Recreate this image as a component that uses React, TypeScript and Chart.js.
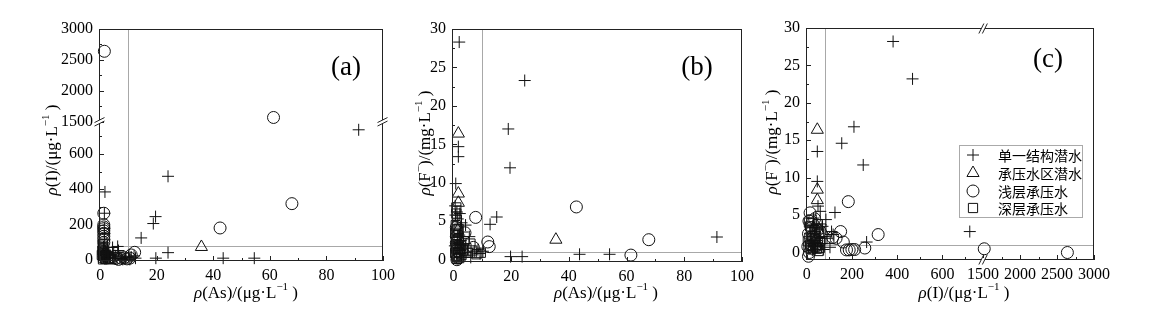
import React, { useEffect, useRef } from 'react';
import { Chart, registerables, LinearScale } from 'chart.js';

Chart.register(...registerables);

type P = [number, number];

// ---------------- data ----------------
const seriesNames = ['单一结构潜水', '承压水区潜水', '浅层承压水', '深层承压水'];

// panel (a): x = ρ(As) µg/L, y = ρ(I) µg/L
const aPlus: P[] = [
  [91.4, 735], [24, 473], [19.6, 246], [18.8, 207], [14.5, 126], [24, 43], [19.7, 12], [43.5, 12], [54.5, 12],
  [1.7, 385], [1.5, 265], [1.5, 180], [1.5, 150], [1.5, 115], [1.2, 75], [1.2, 45], [1.2, 20],
  [4.4, 72], [6.2, 78], [6.5, 55], [4.8, 45], [3.5, 28], [2.5, 15], [4.5, 12], [6, 10], [7.5, 12],
  [9, 15], [10, 20], [11, 18], [12.5, 12], [8.5, 8], [3, 35], [2, 50], [5.5, 25], [7, 20], [8, 5],
  [10.5, 5], [12, 25],
];
const aTri: P[] = [[35.8, 75], [1.7, 40], [1.7, 45], [1.5, 30], [1.5, 20]];
const aCircle: P[] = [
  [1.5, 2640], [61.3, 1570], [67.8, 319], [42.4, 182], [12.2, 45], [1.3, 265], [1.3, 200], [1.3, 188],
  [1.3, 178], [1.3, 166], [1.3, 152], [1.3, 135], [1.3, 118], [1.3, 100], [5.5, 10], [7.5, 12], [9.5, 8],
  [11, 30], [3, 15], [6.5, 5], [8.5, 15], [10.5, 12],
];
const aSquare: P[] = [
  [1, 90], [1, 75], [1, 60], [1, 48], [1, 36], [1, 25], [1, 15], [1, 5], [2, 10], [3, 5], [2, 30], [4, 8],
  [0.8, 55], [1.5, 42], [2.2, 20], [1.8, 8], [0.6, 30], [2.8, 25], [3.5, 12], [1.2, 68],
];

// panel (b): x = ρ(As) µg/L, y = ρ(F-) mg/L
const bPlus: P[] = [
  [2.0, 28.3], [24.7, 23.3], [19, 17], [19.6, 11.95], [15, 5.55], [12.7, 4.6], [91.3, 2.95], [19.8, 0.4],
  [23.8, 0.4], [43.7, 0.7], [54.1, 0.7], [10.2, 1.1], [8.5, 1.3], [1.7, 14.7], [1.7, 13.4], [0.8, 9.9],
  [1.2, 6.2], [1.5, 5.3], [2.8, 4.8], [4.2, 4.5], [5.5, 3.0], [3.2, 3.6], [1.5, 3.0], [1.3, 2.2], [1.5, 1.5],
  [2.2, 0.8], [4, 0.5], [6, 0.3], [7.2, 1.1], [9.2, 0.8], [1, 0.3], [2.5, 2.5], [3, 1.3],
  [0.6, 7.0], [0.7, 5.8], [2.2, 6.0], [2, 3.2], [0.5, 1.8], [3.5, 2.0],
];
const bTri: P[] = [[35.5, 2.6], [1.7, 16.4], [1.7, 8.6], [1.7, 7.4], [1.5, 3.8]];
const bCircle: P[] = [
  [42.6, 6.86], [67.7, 2.6], [61.5, 0.6], [7.7, 5.5], [11.9, 2.3], [12.4, 1.7], [4, 3.5], [6.9, 1.6],
  [1, 4.2], [1, 3.0], [1, 2.2], [1.2, 1.2], [1.5, 0.2], [2, 0.9], [1.5, 2.6], [1.2, 0.0],
];
const bSquare: P[] = [
  [1, 6.8], [1, 6.0], [1.2, 5.2], [0.8, 4.5], [1, 3.8], [1.3, 3.2], [1, 2.6], [1.4, 2.0], [1, 1.5],
  [1.6, 1.0], [1, 0.5], [2, 0.2], [2.5, 1.8], [3.5, 1.2], [5.9, 2.1], [4.5, 1.5], [9.5, 0.9],
  [0.6, 3.5], [1.8, 4.0], [0.7, 1.8], [1.8, 2.8], [2.2, 1.4], [0.6, 0.9], [1.2, 0.1], [2.8, 0.6],
  [3.8, 2.4], [5, 0.9], [6.5, 1.2], [8, 0.7],
];

// panel (c): x = ρ(I) µg/L, y = ρ(F-) mg/L
const cPlus: P[] = [
  [382, 28.2], [468, 23.2], [209, 16.8], [155, 14.6], [47, 13.5], [250, 11.7], [47, 9.5], [125, 5.35],
  [85, 4.4], [721, 2.8], [265, 1.4], [117, 2.4], [103, 0.7], [60, 5.5], [30, 4.6], [70, 3.5], [40, 3.0],
  [55, 2.0], [20, 1.2], [35, 0.8], [110, 2.8], [90, 1.9], [25, 0.3], [50, 6.2], [45, 3.8],
  [15, 2.5], [28, 3.6], [62, 1.2], [45, 1.3], [75, 0.4],
];
const cTri: P[] = [[47, 16.4], [47, 8.4], [47, 7.0], [40, 3.8], [75, 2.6]];
const cCircle: P[] = [
  [2640, 0.0], [1515, 0.5], [316, 2.4], [184, 6.8], [150, 2.8], [162, 1.4], [257, 0.6], [176, 0.35],
  [188, 0.35], [200, 0.4], [212, 0.4], [15, 5.3], [10, 4.2], [20, 3.3], [8, 2.5], [30, 2.0], [12, 0.0],
  [40, 0.9], [45, 1.6], [115, 2.0], [130, 1.9], [8, -0.5], [25, 1.0], [50, 3.0], [5, 0.8], [35, 4.5],
];
const cSquare: P[] = [
  [10, 4.0], [15, 3.5], [20, 2.8], [25, 2.2], [30, 1.6], [35, 1.2], [40, 0.8], [45, 0.5], [50, 1.0],
  [55, 2.5], [18, 0.4], [60, 1.5], [100, 1.8], [65, 3.2], [40, 2.2], [28, 0.6],
  [5, 1.5], [8, 0.8], [12, 2.0], [22, 4.4], [35, 3.0], [48, 3.8], [52, 0.2], [15, 1.0], [38, 1.9], [58, 0.6],
];

// tick values and guideline values
const asTicks = [0, 20, 40, 60, 80, 100];
const asMinorTicks = [10, 30, 50, 70, 90];
const iTicks = [0, 200, 400, 600, 1500, 2000, 2500, 3000];
const iMinorTicks = [100, 300, 500, 700, 1750, 2250, 2750];
const fTicks = [0, 5, 10, 15, 20, 25, 30];
const fMinorTicks = [2.5, 7.5, 12.5, 17.5, 22.5, 27.5];
const asLimit = 10;
const iLimit = 80;
const fLimit = 1;

// ---------------- broken linear scale ----------------
type Seg = { min: number; max: number; from: number; to: number };

function makeBrokenScale(scaleId: string, segs: Seg[]) {
  class BrokenScale extends LinearScale {
    static id = scaleId;
    static defaults = LinearScale.defaults;
    getPixelForValue(value: any) {
      if (value === null || value === undefined || isNaN(value)) return NaN;
      let s = segs[0];
      for (const g of segs) if (value >= g.min) s = g;
      const dec = s.from + ((value - s.min) / (s.max - s.min)) * (s.to - s.from);
      return (this as any).getPixelForDecimal(dec);
    }
    getValueForPixel(pixel: number) {
      const dec = (this as any).getDecimalForPixel(pixel);
      let s = segs[segs.length - 1];
      for (let i = segs.length - 1; i >= 0; i--) if (dec <= segs[i].to) s = segs[i];
      return s.min + ((dec - s.from) / (s.to - s.from)) * (s.max - s.min);
    }
  }
  return BrokenScale;
}

const iSegsA: Seg[] = [
  { min: -4, max: 780, from: 0, to: 0.6 },
  { min: 1500, max: 3000, from: 0.6, to: 1 },
];
const iSegsC: Seg[] = [
  { min: -3, max: 780, from: 0, to: 0.615 },
  { min: 1500, max: 3000, from: 0.615, to: 1 },
];
Chart.register(makeBrokenScale('brokenA', iSegsA) as any, makeBrokenScale('brokenC', iSegsC) as any);

// ---------------- styling helpers ----------------
const FONT = '"Liberation Serif", "Times New Roman", serif';
const CJK = '"Noto Sans CJK SC", "Noto Sans CJK JP", sans-serif';
const INK = '#111';

const markerStyles = [
  { pointStyle: 'cross', radius: 6 },
  { pointStyle: 'triangle', radius: 7 },
  { pointStyle: 'circle', radius: 6 },
  { pointStyle: 'rect', radius: 6.5 },
];

function datasetsFor(groups: P[][]) {
  return groups.map((g, i) => ({
    label: seriesNames[i],
    data: g.map(([x, y]) => ({ x, y })),
    pointStyle: markerStyles[i].pointStyle,
    pointRadius: markerStyles[i].radius,
    pointBorderColor: INK,
    pointBackgroundColor: 'rgba(0,0,0,0)',
    pointBorderWidth: 1,
    showLine: false,
    clip: false as any,
  }));
}

function axis(type: string, min: number, max: number, ticks: number[], position: string, size: number) {
  const horiz = position === 'bottom';
  return {
    type,
    min,
    max,
    position,
    grid: { display: false, drawTicks: false },
    border: { display: false },
    ticks: {
      autoSkip: false,
      maxRotation: 0,
      minRotation: 0,
      padding: horiz ? 5 : 6,
      color: '#000',
      font: { family: FONT, size: 16 },
      callback: (v: any) => String(v),
    },
    afterBuildTicks: (s: any) => {
      s.ticks = ticks.map((v) => ({ value: v }));
    },
    afterFit: (s: any) => {
      if (horiz) s.height = size;
      else s.width = size;
    },
  };
}

type Rich = { t: string; it?: boolean; sup?: boolean };

function drawRich(ctx: CanvasRenderingContext2D, segs: Rich[], cx: number, cy: number, rotate: boolean, size: number) {
  ctx.save();
  ctx.translate(cx, cy);
  if (rotate) ctx.rotate(-Math.PI / 2);
  const fontFor = (s: Rich) => `${s.it ? 'italic ' : ''}${s.sup ? Math.round(size * 0.66) : size}px ${FONT}`;
  let w = 0;
  for (const s of segs) {
    ctx.font = fontFor(s);
    w += ctx.measureText(s.t).width;
  }
  let x = -w / 2;
  ctx.textBaseline = 'alphabetic';
  ctx.textAlign = 'left';
  ctx.fillStyle = '#000';
  const base = size * 0.33;
  for (const s of segs) {
    ctx.font = fontFor(s);
    ctx.fillText(s.t, x, base - (s.sup ? size * 0.42 : 0));
    x += ctx.measureText(s.t).width;
  }
  ctx.restore();
}

function drawMarker(ctx: CanvasRenderingContext2D, style: string, x: number, y: number, r: number) {
  ctx.beginPath();
  if (style === 'cross') {
    ctx.moveTo(x - r, y);
    ctx.lineTo(x + r, y);
    ctx.moveTo(x, y - r);
    ctx.lineTo(x, y + r);
  } else if (style === 'triangle') {
    ctx.moveTo(x, y - r);
    ctx.lineTo(x + r * 0.866, y + r * 0.5);
    ctx.lineTo(x - r * 0.866, y + r * 0.5);
    ctx.closePath();
  } else if (style === 'circle') {
    ctx.arc(x, y, r, 0, Math.PI * 2);
  } else {
    const h = r * Math.SQRT1_2;
    ctx.rect(x - h, y - h, 2 * h, 2 * h);
  }
  ctx.stroke();
}

const asTitle: Rich[] = [{ t: 'ρ', it: true }, { t: '(As)/(μg·L' }, { t: '−1', sup: true }, { t: ' )' }];
const iTitle: Rich[] = [{ t: 'ρ', it: true }, { t: '(I)/(μg·L' }, { t: '−1', sup: true }, { t: ' )' }];
const fTitle: Rich[] = [{ t: 'ρ', it: true }, { t: '(F' }, { t: '−', sup: true }, { t: ')/(mg·L' }, { t: '−1', sup: true }, { t: ' )' }];

interface Deco {
  refX: number;
  refY: number;
  xMajor: number[];
  xMinor: number[];
  yMajor: number[];
  yMinor: number[];
  breakX?: number;
  breakY?: number;
  xTitle: Rich[];
  xTitlePos: [number, number];
  yTitle: Rich[];
  yTitlePos: [number, number];
  label: string;
  labelPos: [number, number];
  legend?: { box: [number, number, number, number]; markerX: number; textX: number; rows: number[] };
}

function decoPlugin(d: Deco) {
  return {
    id: 'deco',
    beforeDatasetsDraw(chart: any) {
      const { ctx, chartArea: a, scales } = chart;
      const x = scales.x;
      const y = scales.y;
      ctx.save();
      ctx.strokeStyle = '#a8a8a8';
      ctx.lineWidth = 1;
      const px = Math.round(x.getPixelForValue(d.refX)) + 0.5;
      const py = Math.round(y.getPixelForValue(d.refY)) + 0.5;
      ctx.beginPath();
      ctx.moveTo(px, a.top);
      ctx.lineTo(px, a.bottom);
      ctx.moveTo(a.left, py);
      ctx.lineTo(a.right, py);
      ctx.stroke();
      ctx.restore();
    },
    afterDraw(chart: any) {
      const { ctx, chartArea: a, scales } = chart;
      const x = scales.x;
      const y = scales.y;
      ctx.save();
      // frame
      ctx.strokeStyle = '#222';
      ctx.lineWidth = 1;
      ctx.strokeRect(a.left + 0.5, a.top + 0.5, a.right - a.left - 1, a.bottom - a.top - 1);
      // inward ticks
      ctx.beginPath();
      const xt = (vals: number[], len: number) => {
        for (const v of vals) {
          const p = Math.round(x.getPixelForValue(v)) + 0.5;
          ctx.moveTo(p, a.bottom);
          ctx.lineTo(p, a.bottom - len);
        }
      };
      const yt = (vals: number[], len: number) => {
        for (const v of vals) {
          const p = Math.round(y.getPixelForValue(v)) + 0.5;
          ctx.moveTo(a.left, p);
          ctx.lineTo(a.left + len, p);
        }
      };
      xt(d.xMajor, 5);
      xt(d.xMinor, 3);
      yt(d.yMajor, 5);
      yt(d.yMinor, 3);
      ctx.stroke();
      // axis breaks
      const g = 3.5;
      if (d.breakY !== undefined) {
        const p = y.getPixelForDecimal(d.breakY);
        for (const x0 of [a.left + 0.5, a.right - 0.5]) {
          ctx.fillStyle = '#fff';
          ctx.fillRect(x0 - 1.5, p - g / 2, 3, g);
          ctx.beginPath();
          ctx.moveTo(x0 - 5, p - g / 2 + 2.5);
          ctx.lineTo(x0 + 5, p - g / 2 - 2.5);
          ctx.moveTo(x0 - 5, p + g / 2 + 2.5);
          ctx.lineTo(x0 + 5, p + g / 2 - 2.5);
          ctx.stroke();
        }
      }
      if (d.breakX !== undefined) {
        const q = x.getPixelForDecimal(d.breakX);
        for (const y0 of [a.top + 0.5, a.bottom - 0.5]) {
          ctx.fillStyle = '#fff';
          ctx.fillRect(q - g / 2, y0 - 1.5, g, 3);
          ctx.beginPath();
          ctx.moveTo(q - g / 2 - 2.5, y0 + 5);
          ctx.lineTo(q - g / 2 + 2.5, y0 - 5);
          ctx.moveTo(q + g / 2 - 2.5, y0 + 5);
          ctx.lineTo(q + g / 2 + 2.5, y0 - 5);
          ctx.stroke();
        }
      }
      // titles
      drawRich(ctx, d.xTitle, d.xTitlePos[0], d.xTitlePos[1], false, 17);
      drawRich(ctx, d.yTitle, d.yTitlePos[0], d.yTitlePos[1], true, 17);
      // panel label
      ctx.font = `27px ${FONT}`;
      ctx.fillStyle = '#000';
      ctx.textAlign = 'center';
      ctx.textBaseline = 'middle';
      ctx.fillText(d.label, d.labelPos[0], d.labelPos[1]);
      // legend
      if (d.legend) {
        const L = d.legend;
        ctx.strokeStyle = '#aaa';
        ctx.strokeRect(L.box[0] + 0.5, L.box[1] + 0.5, L.box[2], L.box[3]);
        ctx.strokeStyle = INK;
        ctx.font = `14px ${CJK}`;
        ctx.textAlign = 'left';
        ctx.textBaseline = 'middle';
        seriesNames.forEach((name, i) => {
          drawMarker(ctx, markerStyles[i].pointStyle, L.markerX, L.rows[i], markerStyles[i].radius);
          ctx.fillStyle = '#000';
          ctx.fillText(name, L.textX, L.rows[i] + 1);
        });
      }
      ctx.restore();
    },
  };
}

function buildConfig(groups: P[][], xAxis: any, yAxis: any, top: number, right: number, deco: Deco) {
  return {
    type: 'scatter',
    data: { datasets: datasetsFor(groups) },
    options: {
      animation: false,
      responsive: false,
      devicePixelRatio: 1,
      events: [],
      layout: { padding: { left: 0, right, top, bottom: 0 } },
      plugins: { legend: { display: false }, tooltip: { enabled: false } },
      scales: { x: xAxis, y: yAxis },
    },
    plugins: [decoPlugin(deco)],
  } as any;
}

const H = 322;

function Panel({ left, width, make }: { left: number; width: number; make: () => any }) {
  const ref = useRef<HTMLCanvasElement>(null);
  useEffect(() => {
    const chart = new Chart(ref.current as HTMLCanvasElement, make());
    return () => chart.destroy();
  }, []);
  return (
    <canvas
      ref={ref}
      width={width}
      height={H}
      style={{ position: 'absolute', left, top: 0, width, height: H, display: 'block' }}
    />
  );
}

const makeA = () =>
  buildConfig(
    [aPlus, aTri, aCircle, aSquare],
    axis('linear', -0.4, 100, asTicks, 'bottom', H - 261),
    axis('brokenA', -4, 3000, iTicks, 'left', 99),
    29,
    13,
    {
      refX: asLimit, refY: iLimit,
      xMajor: asTicks, xMinor: asMinorTicks, yMajor: iTicks, yMinor: iMinorTicks,
      breakY: 0.6,
      xTitle: asTitle, xTitlePos: [246, 292],
      yTitle: iTitle, yTitlePos: [51, 150],
      label: '(a)', labelPos: [346, 68],
    }
  );

const BL = 400;
const makeB = () =>
  buildConfig(
    [bPlus, bTri, bCircle, bSquare],
    axis('linear', -0.5, 100, asTicks, 'bottom', H - 262),
    axis('linear', -0.3, 30, fTicks, 'left', 452 - BL),
    29,
    18,
    {
      refX: asLimit, refY: fLimit,
      xMajor: asTicks, xMinor: asMinorTicks, yMajor: fTicks, yMinor: fMinorTicks,
      xTitle: asTitle, xTitlePos: [606 - BL, 292],
      yTitle: fTitle, yTitlePos: [424 - BL, 143],
      label: '(b)', labelPos: [697 - BL, 68],
    }
  );

const CL = 760;
const makeC = () =>
  buildConfig(
    [cPlus, cTri, cCircle, cSquare],
    axis('brokenC', -3, 3000, iTicks, 'bottom', H - 260),
    axis('linear', -1, 30, fTicks, 'left', 806 - CL),
    28,
    1154 - 1094,
    {
      refX: iLimit, refY: fLimit,
      xMajor: iTicks, xMinor: iMinorTicks, yMajor: fTicks, yMinor: fMinorTicks,
      breakX: 0.615,
      xTitle: iTitle, xTitlePos: [964 - CL, 292],
      yTitle: fTitle, yTitlePos: [771 - CL, 142],
      label: '(c)', labelPos: [1048 - CL, 60],
      legend: { box: [959 - CL, 145, 123, 72], markerX: 973 - CL, textX: 998 - CL, rows: [155, 173, 191, 208] },
    }
  );

export default function App() {
  return (
    <div style={{ position: 'absolute', left: 0, top: 0, width: 1154, height: H, background: '#fff', overflow: 'hidden' }}>
      <Panel left={0} width={BL} make={makeA} />
      <Panel left={BL} width={CL - BL} make={makeB} />
      <Panel left={CL} width={1154 - CL} make={makeC} />
    </div>
  );
}
